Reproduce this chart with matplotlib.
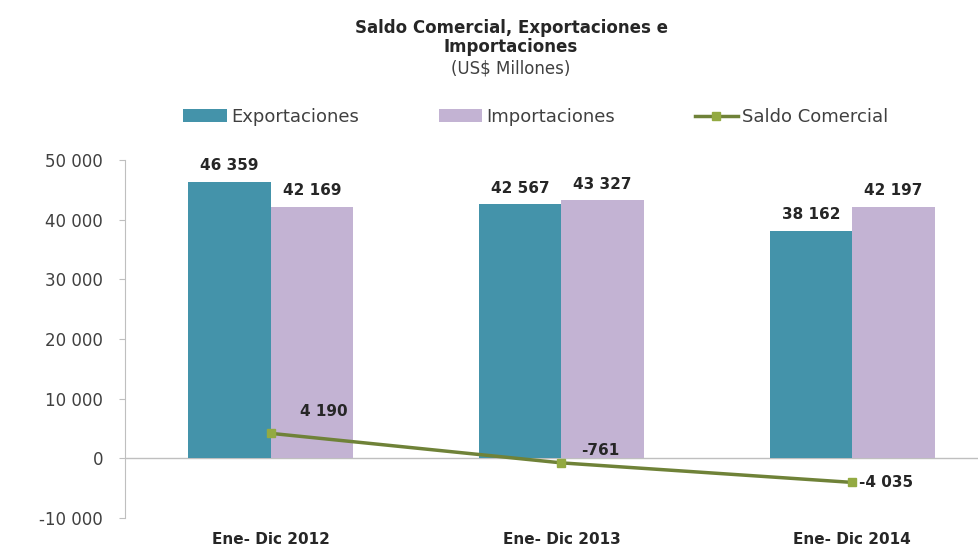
import numpy as np
import matplotlib.pyplot as plt

plt.rcParams["font.family"] = ["DejaVu Sans"]

categories = ["Ene- Dic 2012", "Ene- Dic 2013", "Ene- Dic 2014"]
exportaciones = [46359, 42567, 38162]
importaciones = [42169, 43327, 42197]
saldo = [4190, -761, -4035]
yticks = [-10000, 0, 10000, 20000, 30000, 40000, 50000]

C_EXP = "#4493aa"
C_IMP = "#c3b3d3"
C_LINE = "#6f8238"
C_MARK = "#93aa42"
TXT = "#262626"


def fmt(v):
    s = f"{abs(v):,}".replace(",", " ")
    return ("-" if v < 0 else "") + s


fig = plt.figure(figsize=(9.79, 5.52), dpi=100)
ax = fig.add_axes([0.128, 0.0616, 0.891, 0.6485])

x = np.arange(len(categories))
w = 0.284
b1 = ax.bar(x - w / 2, exportaciones, w, color=C_EXP, label="Exportaciones")
b2 = ax.bar(x + w / 2, importaciones, w, color=C_IMP, label="Importaciones")
ln, = ax.plot(x, saldo, color=C_LINE, lw=2.5, marker="s", ms=6,
              mfc=C_MARK, mec=C_MARK, label="Saldo Comercial")

for rect, v in zip(list(b1) + list(b2), exportaciones + importaciones):
    ax.annotate(fmt(v), (rect.get_x() + rect.get_width() / 2, v),
                xytext=(0, 6), textcoords="offset points",
                ha="center", va="bottom", fontsize=11, fontweight="bold", color=TXT)

offsets = [(21, 16), (14, 9), (5, 0)]
for xi, v, off in zip(x, saldo, offsets):
    ax.annotate(fmt(v), (xi, v), xytext=off, textcoords="offset points",
                ha="left", va="center", fontsize=11, fontweight="bold", color=TXT)

ax.axhline(0, color="#bfbfbf", lw=1, zorder=0)
ax.set_xlim(-0.5, 2.5)
ax.set_ylim(-10000, 50000)
ax.set_yticks(yticks)
ax.set_yticklabels([fmt(v) for v in yticks], fontsize=12, color="#404040")
ax.set_xticks(x)
ax.set_xticklabels(categories, fontsize=11, fontweight="bold", color=TXT)
ax.tick_params(axis="x", length=0, pad=10)
ax.tick_params(axis="y", length=4, direction="out", color="#bfbfbf", pad=12)
for s in ["top", "right", "bottom"]:
    ax.spines[s].set_visible(False)
ax.spines["left"].set_color("#bfbfbf")

fig.text(0.522, 1 - 28 / 552, "Saldo Comercial, Exportaciones e",
         ha="center", va="center", fontsize=12, fontweight="bold", color=TXT)
fig.text(0.522, 1 - 47 / 552, "Importaciones",
         ha="center", va="center", fontsize=12, fontweight="bold", color=TXT)
fig.text(0.522, 1 - 69 / 552, "(US$ Millones)", ha="center", va="center",
         fontsize=12, color="#404040")

fig.legend(handles=[b1, b2, ln], loc="center", bbox_to_anchor=(0.5475, 0.788),
           ncol=3, frameon=False, fontsize=13, handlelength=2.4,
           columnspacing=4.4, handletextpad=0.25, labelcolor="#404040")

fig.savefig("out.png", dpi=100, facecolor="white")
